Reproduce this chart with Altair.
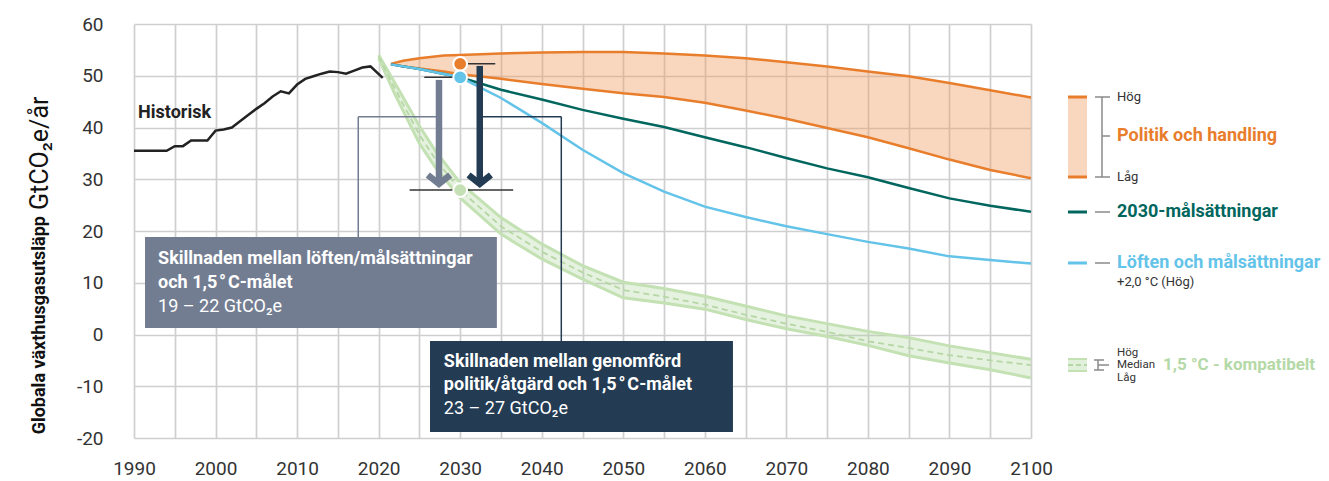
import altair as alt
import pandas as pd

# ---------------- data ----------------
hist_years = [1990, 1991, 1992, 1993, 1994, 1995, 1996, 1997, 1998, 1999, 2000, 2001, 2002, 2003,
              2004, 2005, 2006, 2007, 2008, 2009, 2010, 2011, 2012, 2013, 2014, 2015, 2016, 2017,
              2018, 2019, 2020.5]
hist_values = [35.5, 35.5, 35.5, 35.5, 35.5, 36.4, 36.4, 37.5, 37.5, 37.5, 39.4, 39.6, 40.0, 41.2,
               42.4, 43.6, 44.7, 46.0, 47.0, 46.6, 48.3, 49.4, 49.9, 50.4, 50.8, 50.7, 50.4, 51.0,
               51.6, 51.8, 49.6]

pol_years = [2021.5, 2023, 2025, 2028, 2030, 2035, 2040, 2045, 2050, 2055, 2060, 2065, 2070, 2075,
             2080, 2085, 2090, 2095, 2100]
pol_high = [52.3, 52.9, 53.4, 53.9, 54.0, 54.3, 54.5, 54.6, 54.6, 54.3, 53.9, 53.4, 52.6, 51.8,
            50.8, 49.9, 48.6, 47.2, 45.8]
pol_low = [52.3, 51.8, 51.4, 50.8, 50.3, 49.4, 48.4, 47.5, 46.6, 45.9, 44.8, 43.3, 41.7, 39.9,
           38.1, 36.0, 33.8, 31.8, 30.2]

ndc_years = [2021.5, 2025, 2030, 2035, 2040, 2045, 2050, 2055, 2060, 2065, 2070, 2075, 2080, 2085,
             2090, 2095, 2100]
ndc_values = [52.2, 51.3, 49.7, 47.3, 45.4, 43.4, 41.7, 40.1, 38.1, 36.2, 34.1, 32.1, 30.4, 28.3,
              26.3, 24.9, 23.7]

pledge_years = [2021.5, 2025, 2030, 2035, 2040, 2045, 2050, 2055, 2060, 2065, 2070, 2075, 2080,
                2085, 2090, 2095, 2100]
pledge_values = [52.2, 51.3, 49.7, 45.7, 40.9, 35.7, 31.2, 27.6, 24.7, 22.7, 20.9, 19.4, 17.9,
                 16.6, 15.1, 14.4, 13.7]

c15_years = [2020, 2022, 2025, 2027, 2030, 2035, 2040, 2045, 2050, 2055, 2060, 2065, 2070, 2075,
             2080, 2085, 2090, 2095, 2100]
c15_high = [54.0, 48.6, 40.3, 35.4, 29.3, 22.6, 17.5, 13.3, 10.1, 8.9, 7.4, 5.5, 3.6, 2.1,
            0.6, -0.6, -2.2, -3.5, -4.8]
c15_median = [53.7, 47.5, 38.6, 33.8, 27.9, 20.9, 16.0, 12.0, 8.6, 7.3, 5.8, 3.8, 2.1, 0.5,
              -1.3, -2.6, -4.0, -5.0, -5.9]
c15_low = [53.4, 46.4, 36.9, 32.2, 26.4, 19.4, 14.6, 10.7, 7.1, 6.1, 4.9, 2.9, 1.1, -0.4,
           -2.1, -4.1, -5.5, -6.8, -8.4]

# 2030 markers
dot_year = [2030, 2030, 2030]
dot_value = [52.3, 49.7, 27.9]
dot_color = ["#e87d2c", "#63c3e8", "#c5e0b4"]

# gap arrows (year, from, to)
arrow_x = [2027.4, 2032.4]
arrow_from = [49.2, 51.9]
arrow_to = [29.1, 29.1]
arrow_color = ["#737d92", "#233b53"]

# level marks
lvl_y = [52.3, 49.7, 27.9]
lvl_x1 = [2030.0, 2025.6, 2023.8]
lvl_x2 = [2034.3, 2030.0, 2036.5]

# annotation boxes
box_x1 = [1991.35, 2026.3]
box_x2 = [2034.5, 2063.45]
box_y1 = [18.84, -1.26]
box_y2 = [1.26, -18.84]
box_color = ["#737d92", "#233b53"]

box1_lines = ["Skillnaden mellan löften/målsättningar", "och 1,5\u200a°\u200aC-målet", "19 – 22 GtCO₂e"]
box1_y = [14.6, 9.95, 5.3]
box2_lines = ["Skillnaden mellan genomförd", "politik/åtgärd och 1,5\u200a°\u200aC-målet", "23 – 27 GtCO₂e"]
box2_y = [-5.26, -9.76, -14.4]
box_weight = ["bold", "bold", "normal"]

x_ticks = list(range(1990, 2101, 5))
y_ticks = list(range(-20, 61, 10))

FONT = "Roboto"
W, H = 897, 414

xs = alt.Scale(domain=[1990, 2100], nice=False, zero=False)
ys = alt.Scale(domain=[-20, 60], nice=False, zero=False)
AXX = alt.Axis(values=x_ticks, grid=True, gridColor="#cfcfcf", gridWidth=1.7,
               domain=False, ticks=False, labelPadding=21, labelFontSize=19, labelFlush=False,
               labelFont=FONT, labelColor="#333", labelOverlap=False, title=None,
               labelExpr="datum.value % 10 == 0 ? toString(datum.value) : ''")
AXY = alt.Axis(values=y_ticks, grid=True, gridColor="#cfcfcf", gridWidth=1.7,
               domain=False, ticks=False, labelPadding=31, labelFontSize=19, labelFlush=False,
               labelFont=FONT, labelColor="#333", labelOverlap=False, title=None,
               labelExpr="toString(datum.value)")
one = pd.DataFrame({"a": [0]})

def X(f, **kw):
    return alt.X(f, scale=xs, axis=AXX, **kw)

def Y(f, **kw):
    return alt.Y(f, scale=ys, axis=AXY, **kw)

# ---------------- frames ----------------
hist_df = pd.DataFrame({"year": hist_years, "v": hist_values})
pol_df = pd.DataFrame({"year": pol_years, "hi": pol_high, "lo": pol_low})
ndc_df = pd.DataFrame({"year": ndc_years, "v": ndc_values})
pl_df = pd.DataFrame({"year": pledge_years, "v": pledge_values})
c15_df = pd.DataFrame({"year": c15_years, "hi": c15_high, "md": c15_median, "lo": c15_low})

layers = []

# policy band
layers.append(alt.Chart(pol_df).mark_area(color="#ef9c5c", opacity=0.4).encode(
    x=X("year:Q"), y=Y("lo:Q"), y2="hi:Q"))
layers.append(alt.Chart(pol_df).mark_line(color="#e87d2c", strokeWidth=2.5).encode(
    x=X("year:Q"), y=Y("hi:Q")))
layers.append(alt.Chart(pol_df).mark_line(color="#e87d2c", strokeWidth=2.5).encode(
    x=X("year:Q"), y=Y("lo:Q")))

# 1.5 band
layers.append(alt.Chart(c15_df).mark_area(color="#a8d396", opacity=0.3).encode(
    x=X("year:Q"), y=Y("lo:Q"), y2="hi:Q"))
for col in ["hi", "lo"]:
    layers.append(alt.Chart(c15_df).mark_line(color="#c4e1b4", strokeWidth=3).encode(
        x=X("year:Q"), y=Y(f"{col}:Q")))
layers.append(alt.Chart(c15_df).mark_line(color="#b6d7a5", strokeWidth=1.8, strokeDash=[6, 4]).encode(
    x=X("year:Q"), y=Y("md:Q")))

# scenario lines
layers.append(alt.Chart(ndc_df).mark_line(color="#00665e", strokeWidth=2.5).encode(
    x=X("year:Q"), y=Y("v:Q")))
layers.append(alt.Chart(pl_df).mark_line(color="#63c3e8", strokeWidth=2.5).encode(
    x=X("year:Q"), y=Y("v:Q")))
layers.append(alt.Chart(hist_df).mark_line(color="#222222", strokeWidth=2.5).encode(
    x=X("year:Q"), y=Y("v:Q")))

# level marks
lvl_df = pd.DataFrame({"y": lvl_y, "x1": lvl_x1, "x2": lvl_x2})
layers.append(alt.Chart(lvl_df).mark_rule(color="#333333", strokeWidth=1.5).encode(
    x=X("x1:Q"), x2="x2:Q", y=Y("y:Q")))

# connectors
con_v = pd.DataFrame({"x": [2017.5, 2042.4], "y1": [18.84, 42.1], "y2": [42.1, -1.26],
                      "c": box_color})
con_h = pd.DataFrame({"y": [42.1, 42.1], "x1": [2017.5, 2032.4], "x2": [2027.4, 2042.4],
                      "c": box_color})
layers.append(alt.Chart(con_v).mark_rule(strokeWidth=1.5).encode(
    x=X("x:Q"), y=Y("y1:Q"), y2="y2:Q", color=alt.Color("c:N", scale=None)))
layers.append(alt.Chart(con_h).mark_rule(strokeWidth=1.5).encode(
    x=X("x1:Q"), x2="x2:Q", y=Y("y:Q"), color=alt.Color("c:N", scale=None)))

# arrows
arr_df = pd.DataFrame({"x": arrow_x, "y1": arrow_from, "y2": arrow_to, "c": arrow_color})
layers.append(alt.Chart(arr_df).mark_rule(strokeWidth=6.5, strokeCap="butt").encode(
    x=X("x:Q"), y=Y("y1:Q"), y2="y2:Q", color=alt.Color("c:N", scale=None)))
layers.append(alt.Chart(arr_df).mark_point(shape="M-1,-0.8L0,0L1,-0.8", filled=False, size=500,
                                           strokeWidth=6.5, strokeJoin="miter", strokeCap="butt",
                                           opacity=1).encode(
    x=X("x:Q"), y=Y("y2:Q"), stroke=alt.Color("c:N", scale=None)))

# dots
dot_df = pd.DataFrame({"x": dot_year, "y": dot_value, "c": dot_color})
layers.append(alt.Chart(dot_df).mark_circle(size=190, opacity=1, stroke="white", strokeWidth=2).encode(
    x=X("x:Q"), y=Y("y:Q"), color=alt.Color("c:N", scale=None)))

# boxes
box_df = pd.DataFrame({"x1": box_x1, "x2": box_x2, "y1": box_y1, "y2": box_y2, "c": box_color})
layers.append(alt.Chart(box_df).mark_rect().encode(
    x=X("x1:Q"), x2="x2:Q", y=Y("y1:Q"), y2="y2:Q", color=alt.Color("c:N", scale=None)))
for lines, ypos, x0 in [(box1_lines, box1_y, 1992.95), (box2_lines, box2_y, 2028.0)]:
    for t, yv, wt in zip(lines, ypos, box_weight):
        d = pd.DataFrame({"t": [t], "x": [x0], "y": [yv]})
        layers.append(alt.Chart(d).mark_text(align="left", baseline="middle", color="white",
                                             font=FONT, fontSize=18, fontWeight=wt).encode(
            x=X("x:Q"), y=Y("y:Q"), text="t:N"))

# Historisk label
hl = pd.DataFrame({"t": ["Historisk"], "x": [1990.5], "y": [42.8]})
layers.append(alt.Chart(hl).mark_text(align="left", baseline="middle", color="#222", font=FONT,
                                      fontSize=18, fontWeight="bold").encode(
    x=X("x:Q"), y=Y("y:Q"), text="t:N"))

# ---------------- legend (pixel placed) ----------------
def hrule(x1, x2, y, color, w, dash=None):
    kw = dict(color=color, strokeWidth=w)
    if dash:
        kw["strokeDash"] = dash
    return alt.Chart(one).mark_rule(**kw).encode(x=alt.value(x1), x2=alt.value(x2), y=alt.value(y))

def vrule(x, y1, y2, color, w):
    return alt.Chart(one).mark_rule(color=color, strokeWidth=w).encode(
        x=alt.value(x), y=alt.value(y1), y2=alt.value(y2))

def ptext(t, x, y, size, color, weight="normal", align="left", angle=0):
    d = pd.DataFrame({"t": [t]})
    return alt.Chart(d).mark_text(align=align, baseline="middle", color=color, font=FONT,
                                  fontSize=size, fontWeight=weight, angle=angle).encode(
        x=alt.value(x), y=alt.value(y), text="t:N")

def prect(x1, x2, y1, y2, color, op):
    return alt.Chart(one).mark_rect(color=color, opacity=op).encode(
        x=alt.value(x1), x2=alt.value(x2), y=alt.value(y1), y2=alt.value(y2))

G = "#8a8a8a"
LX = 983
# policy
layers += [prect(934, 953, 73, 153, "#ef9c5c", 0.4),
           hrule(934, 953, 73, "#e87d2c", 3), hrule(934, 953, 153, "#e87d2c", 3),
           vrule(968, 73, 153, G, 1.5), hrule(961, 976, 73, G, 1.5), hrule(961, 976, 153, G, 1.5),
           hrule(968, 976, 112, G, 1.5),
           ptext("Hög", LX, 73, 13, "#333"), ptext("Låg", LX, 153, 13, "#333"),
           ptext("Politik och handling", LX, 112, 18, "#e87d2c", "bold")]
# 2030 goals
layers += [hrule(934, 953, 188, "#00665e", 3), hrule(961, 976, 188, G, 1.5),
           ptext("2030-målsättningar", LX, 188, 18, "#00665e", "bold")]
# pledges
layers += [hrule(934, 953, 239, "#63c3e8", 3), hrule(961, 976, 239, G, 1.5),
           ptext("Löften och målsättningar", LX, 239, 18, "#63c3e8", "bold"),
           ptext("+2,0 °C (Hög)", LX, 258, 13, "#333")]
# 1.5 compatible
layers += [prect(934, 953, 334, 348, "#a8d396", 0.35),
           hrule(934, 953, 335, "#c4e1b4", 2), hrule(934, 953, 347, "#c4e1b4", 2),
           hrule(934, 953, 341, "#b6d7a5", 2, [5, 3]),
           vrule(964, 336, 346, G, 1.5), hrule(960, 970, 336, G, 1.5), hrule(960, 970, 346, G, 1.5),
           hrule(964, 975, 341, G, 1.5),
           ptext("Hög", LX, 328.5, 11.5, "#333"), ptext("Median", LX, 341, 11.5, "#333"),
           ptext("Låg", LX, 353.5, 11.5, "#333"),
           ptext("1,5 °C - kompatibelt", 1029, 341, 17, "#b5d9a6", "bold")]

# y title (bold + regular part)
layers += [ptext("Globala växthusgasutsläpp", -94, 192, 18, "#111", "bold", align="right", angle=270),
           ptext("GtCO₂e/år", -94, 186, 25, "#111", "normal", align="left", angle=270)]

chart = alt.layer(*layers).properties(
    width=W, height=H,
    autosize=alt.AutoSizeParams(type="none"),
    padding={"left": 126, "top": 16, "right": 290, "bottom": 42},
).configure_view(stroke=None)

chart.save("out.html", embed_options={"renderer": "svg", "actions": False})
